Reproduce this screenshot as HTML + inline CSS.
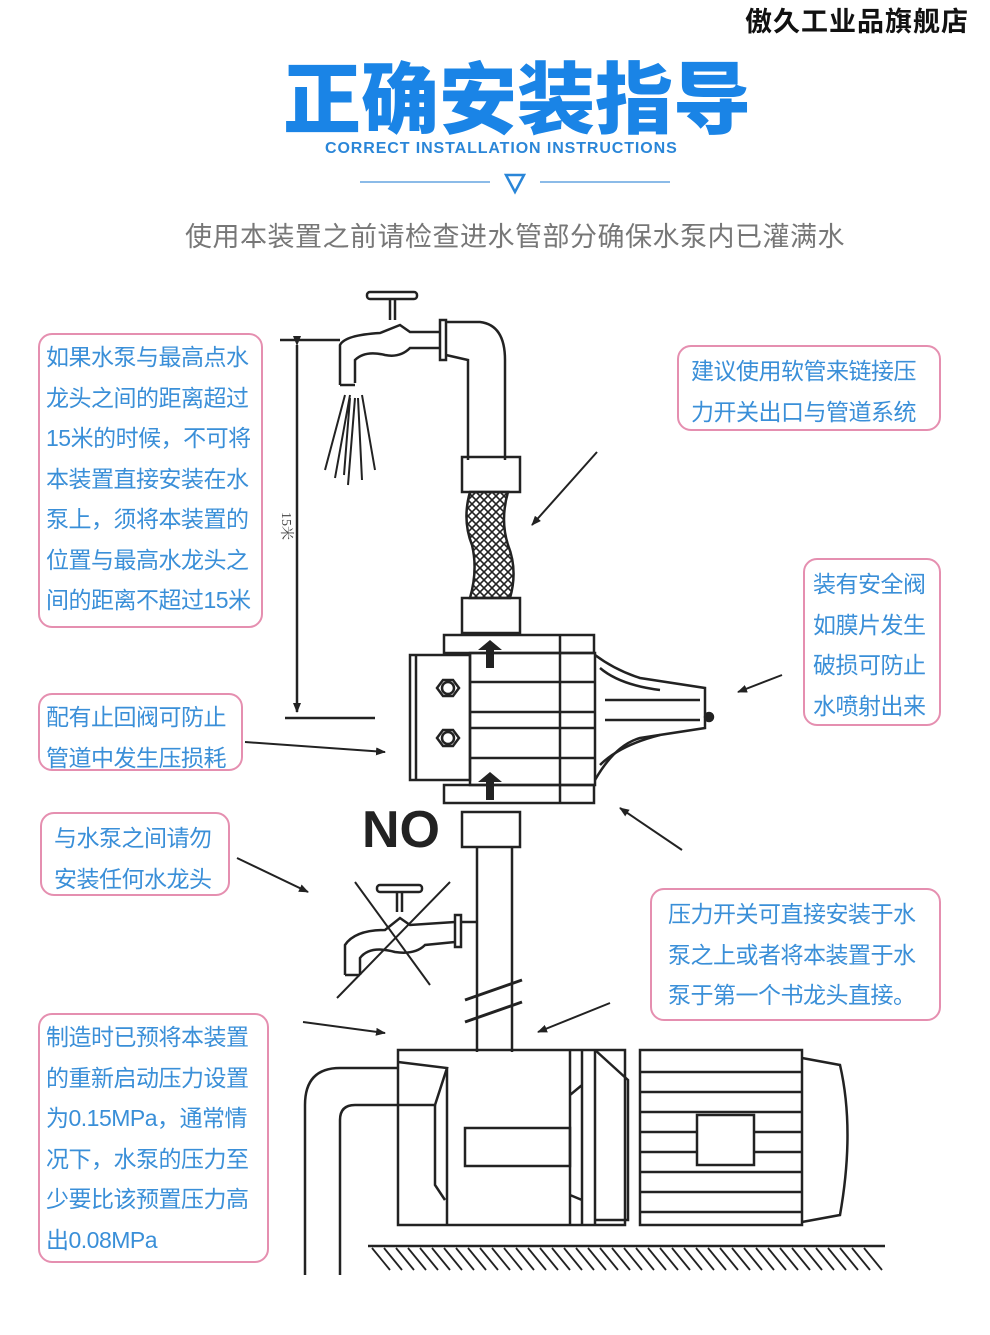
<!DOCTYPE html>
<html><head><meta charset="utf-8"><style>
body{margin:0;width:990px;height:1335px;background:#fff;position:relative;overflow:hidden;font-family:"Liberation Sans","Noto Sans CJK SC",sans-serif}
.a{position:absolute;white-space:nowrap}
.box{position:absolute;border:2px solid #e58fb0;border-radius:14px;color:#3a8fd8;font-size:23px;line-height:40.5px;padding:0 0 0 6px;box-sizing:border-box;letter-spacing:-0.5px}
svg{position:absolute;left:0;top:0}
</style></head><body>
<div class="a" style="left:745px;top:0;font-size:27px;font-weight:bold;color:#111;letter-spacing:1px">傲久工业品旗舰店</div>
<div class="a" style="left:283px;top:38px;font-size:78px;font-weight:900;color:#1a84e6;letter-spacing:0px">正确安装指导</div>
<div class="a" style="left:325px;top:140px;font-size:16px;font-weight:bold;color:#2a86d8;letter-spacing:0.9px">CORRECT INSTALLATION INSTRUCTIONS</div>
<div class="a" style="left:185px;top:215px;font-size:27px;color:#777;letter-spacing:0.5px">使用本装置之前请检查进水管部分确保水泵内已灌满水</div>

<div class="box" style="left:38px;top:333px;width:225px;height:295px;padding-top:2px">如果水泵与最高点水<br>龙头之间的距离超过<br>15米的时候，不可将<br>本装置直接安装在水<br>泵上，须将本装置的<br>位置与最高水龙头之<br>间的距离不超过15米</div>
<div class="box" style="left:677px;top:345px;width:264px;height:86px;padding:4px 0 0 12px">建议使用软管来链接压<br>力开关出口与管道系统</div>
<div class="box" style="left:803px;top:558px;width:138px;height:168px;padding:4px 0 0 8px">装有安全阀<br>如膜片发生<br>破损可防止<br>水喷射出来</div>
<div class="box" style="left:38px;top:693px;width:205px;height:78px;padding:2px 0 0 6px">配有止回阀可防止<br>管道中发生压损耗</div>
<div class="box" style="left:40px;top:812px;width:190px;height:84px;padding:4px 0 0 12px">与水泵之间请勿<br>安装任何水龙头</div>
<div class="box" style="left:650px;top:888px;width:291px;height:133px;padding:4px 0 0 16px">压力开关可直接安装于水<br>泵之上或者将本装置于水<br>泵于第一个书龙头直接。</div>
<div class="box" style="left:38px;top:1013px;width:231px;height:250px;padding:2px 0 0 6px">制造时已预将本装置<br>的重新启动压力设置<br>为0.15MPa，通常情<br>况下，水泵的压力至<br>少要比该预置压力高<br>出0.08MPa</div>
<div class="a" style="left:362px;top:800px;font-size:52px;font-weight:bold;color:#222">NO</div>

<svg width="990" height="1335" viewBox="0 0 990 1335" fill="none" stroke="#222" stroke-width="2.5">
<defs><marker id="m" markerWidth="10" markerHeight="8" refX="9" refY="4" orient="auto" markerUnits="userSpaceOnUse"><path d="M0,0 L10,4 L0,8z" fill="#222" stroke="none"/></marker>
<pattern id="net" width="8" height="8" patternUnits="userSpaceOnUse"><path d="M0,0L8,8M8,0L0,8" stroke="#222" stroke-width="1.6"/></pattern></defs>
<line x1="360" y1="182" x2="490" y2="182" stroke="#8bbbe8" stroke-width="2"/>
<line x1="540" y1="182" x2="670" y2="182" stroke="#8bbbe8" stroke-width="2"/>
<path d="M506,175 L524,175 L515,192z" stroke="#2a86d8" stroke-width="2.5"/>
<rect x="367" y="292" width="50" height="7" rx="3"/>
<line x1="390" y1="299" x2="390" y2="320"/><line x1="395" y1="299" x2="395" y2="320"/>
<path d="M340,385 L340,345 Q345,335 380,333 L400,325 L410,332 L440,332"/>
<path d="M355,383 L355,360 Q365,350 385,355 Q400,358 410,348 L440,348"/>
<path d="M340,385 L355,385"/>
<rect x="440" y="320" width="6" height="40"/>
<path d="M446,322 L480,322 Q505,325 505,360 L505,460"/><path d="M446,355 L468,360 L468,460"/>
<g stroke-width="2"><path d="M345,395 L325,470 M350,395 L335,478 M355,398 L348,485 M358,398 L362,480 M362,395 L375,470 M350,398 L344,475"/></g>
<rect x="462" y="457" width="58" height="35"/>
<path d="M470,492 Q462,520 472,545 Q478,570 470,598 L510,598 Q518,570 508,545 Q500,520 508,492z" fill="url(#net)"/>
<rect x="462" y="598" width="58" height="35"/>
<line x1="280" y1="340" x2="340" y2="340"/><line x1="285" y1="718" x2="375" y2="718"/>
<line x1="297" y1="345" x2="297" y2="712" marker-start="url(#m)" marker-end="url(#m)"/>
<text x="282" y="512" font-size="14" fill="#444" stroke="none" transform="rotate(90 282 512)" font-family="Liberation Serif,Noto Serif CJK SC,serif">15米</text>
<rect x="444" y="635" width="150" height="18"/><rect x="444" y="785" width="150" height="18"/>
<rect x="410" y="655" width="60" height="125"/><line x1="416" y1="655" x2="416" y2="780"/>
<rect x="470" y="653" width="125" height="132"/>
<line x1="470" y1="682" x2="595" y2="682"/><line x1="470" y1="712" x2="595" y2="712"/><line x1="470" y1="728" x2="595" y2="728"/><line x1="470" y1="758" x2="595" y2="758"/>
<line x1="560" y1="635" x2="560" y2="803"/>
<polygon points="437,688 443,680 453,680 459,688 453,696 443,696"/><circle cx="448" cy="688" r="6"/>
<polygon points="437,738 443,730 453,730 459,738 453,746 443,746"/><circle cx="448" cy="738" r="6"/>
<path d="M595,655 Q615,670 640,678 L705,688 L705,728 L640,738 Q615,745 595,780"/>
<path d="M600,668 Q620,685 660,690 M600,765 Q620,745 660,735 M605,700 L700,700 M605,720 L700,720"/>
<circle cx="709" cy="717" r="4" fill="#222"/>
<path d="M490,640 L478,650 L486,650 L486,668 L494,668 L494,650 L502,650z" fill="#222" stroke="none"/>
<path d="M490,772 L478,782 L486,782 L486,800 L494,800 L494,782 L502,782z" fill="#222" stroke="none"/>
<rect x="462" y="812" width="58" height="35"/>
<line x1="477" y1="847" x2="477" y2="1052"/><line x1="512" y1="847" x2="512" y2="1052"/>
<path d="M465,1000 L522,980 M465,1022 L522,1002" stroke-width="3"/>
<rect x="377" y="885" width="45" height="7" rx="3"/><line x1="397" y1="892" x2="397" y2="912"/><line x1="402" y1="892" x2="402" y2="912"/>
<path d="M345,975 L345,945 Q355,930 385,930 L400,918 L410,925 L455,922"/>
<path d="M360,975 L360,958 Q370,945 395,952 Q415,955 425,945 L455,942"/>
<path d="M345,975 L360,975"/><rect x="455" y="915" width="6" height="32"/><line x1="461" y1="922" x2="477" y2="922"/>
<line x1="355" y1="882" x2="430" y2="985" stroke-width="2"/><line x1="450" y1="882" x2="337" y2="998" stroke-width="2"/>
<path d="M398,1050 L625,1050 L625,1225 L398,1225z"/>
<path d="M398,1062 L447,1068 L435,1105 L398,1105"/>
<path d="M447,1068 L447,1225 M435,1105 L435,1185 L445,1200"/>
<rect x="465" y="1128" width="105" height="38"/>
<path d="M570,1050 L570,1225 M582,1050 L582,1225 M595,1050 L595,1225 M570,1095 L582,1085 L582,1200 L570,1195"/>
<path d="M595,1050 L628,1080 L628,1220 L595,1220"/>
<rect x="640" y="1050" width="162" height="175"/>
<path d="M640,1072 L802,1072 M640,1092 L802,1092 M640,1112 L802,1112 M640,1132 L802,1132 M640,1152 L802,1152 M640,1172 L802,1172 M640,1192 L802,1192 M640,1212 L802,1212"/>
<rect x="697" y="1115" width="57" height="50" fill="#fff"/>
<path d="M802,1058 L840,1065 Q855,1130 840,1215 L802,1222"/>
<path d="M398,1068 L340,1068 Q305,1068 305,1105 L305,1275"/>
<path d="M398,1105 L355,1105 Q340,1105 340,1120 L340,1275"/>
<line x1="368" y1="1246" x2="885" y2="1246"/>
<path stroke-width="1.8" d="M372,1248 l18,22 M384,1248 l18,22 M396,1248 l18,22 M408,1248 l18,22 M420,1248 l18,22 M432,1248 l18,22 M444,1248 l18,22 M456,1248 l18,22 M468,1248 l18,22 M480,1248 l18,22 M492,1248 l18,22 M504,1248 l18,22 M516,1248 l18,22 M528,1248 l18,22 M540,1248 l18,22 M552,1248 l18,22 M564,1248 l18,22 M576,1248 l18,22 M588,1248 l18,22 M600,1248 l18,22 M612,1248 l18,22 M624,1248 l18,22 M636,1248 l18,22 M648,1248 l18,22 M660,1248 l18,22 M672,1248 l18,22 M684,1248 l18,22 M696,1248 l18,22 M708,1248 l18,22 M720,1248 l18,22 M732,1248 l18,22 M744,1248 l18,22 M756,1248 l18,22 M768,1248 l18,22 M780,1248 l18,22 M792,1248 l18,22 M804,1248 l18,22 M816,1248 l18,22 M828,1248 l18,22 M840,1248 l18,22 M852,1248 l18,22 M864,1248 l18,22"/>
<g stroke-width="2">
<line x1="597" y1="452" x2="532" y2="525" marker-end="url(#m)"/>
<line x1="782" y1="675" x2="738" y2="692" marker-end="url(#m)"/>
<line x1="245" y1="742" x2="385" y2="752" marker-end="url(#m)"/>
<line x1="682" y1="850" x2="620" y2="808" marker-end="url(#m)"/>
<line x1="237" y1="858" x2="308" y2="892" marker-end="url(#m)"/>
<line x1="303" y1="1022" x2="385" y2="1033" marker-end="url(#m)"/>
<line x1="610" y1="1003" x2="538" y2="1032" marker-end="url(#m)"/>
</g>
</svg>
</body></html>
